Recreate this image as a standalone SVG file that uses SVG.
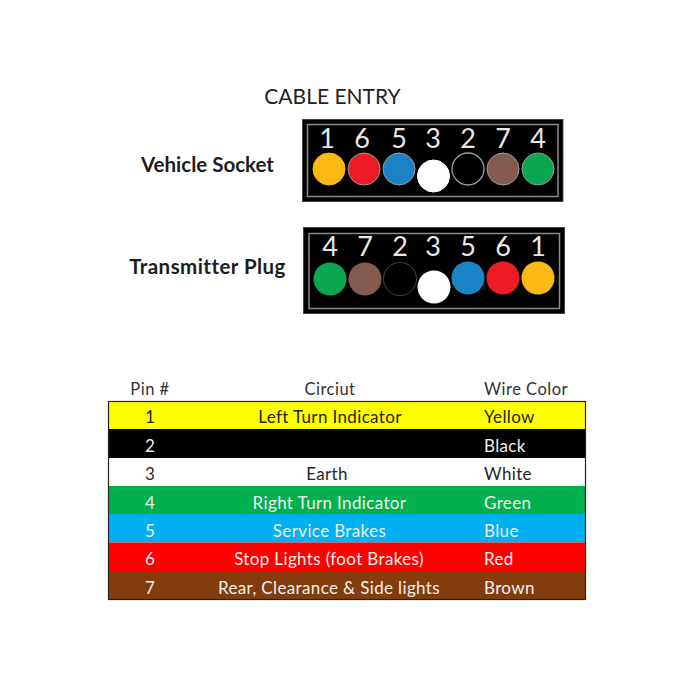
<svg xmlns="http://www.w3.org/2000/svg" width="700" height="700" viewBox="0 0 700 700">
<style>
text{font-family:"Lato","Open Sans","Liberation Sans",sans-serif;font-size:17px;letter-spacing:.36px;fill:#222}
.m{text-anchor:middle}
.w{fill:#f0f0f0}
.k{fill:#262626}
.h{font-size:16.500px;letter-spacing:.5px;fill:#333}
.t{font-size:20.500px;font-weight:700;fill:#1c1c1c;letter-spacing:0}
.n{font-size:27px;letter-spacing:0;fill:#e8e8e8;text-anchor:middle}
.box{fill:#000;stroke:#444;stroke-width:1}
.in{fill:none;stroke:#8a8a8a;stroke-width:1.5}
</style>
<rect width="700" height="700" fill="#fff"/>
<text id="title" x="332.500" y="104" class="m" style="font-size:21px;letter-spacing:0;fill:#222">CABLE ENTRY</text>
<g id="vehicle-socket">
<text x="207.500" y="172" class="t m">Vehicle Socket</text>
<rect class="box" x="302.500" y="119.500" width="260.500" height="82"/>
<rect class="in" x="307.500" y="124.500" width="250.500" height="72"/>
<text class="n" x="327" y="148">1</text><text class="n" x="362" y="148">6</text><text class="n" x="399" y="148">5</text><text class="n" x="433" y="148">3</text><text class="n" x="468" y="148">2</text><text class="n" x="503" y="148">7</text><text class="n" x="538" y="148">4</text>
<g stroke="#9a9a9a" stroke-width="1">
<circle cx="329" cy="169" r="16" fill="#fdb913" stroke="#fdb913"/>
<circle cx="364" cy="169" r="16" fill="#ed1c24"/>
<circle cx="399" cy="169" r="16" fill="#1b82c6"/>
<circle cx="433.500" cy="176" r="16" fill="#fff" stroke="#fff"/>
<circle cx="468" cy="169" r="16" fill="#000" stroke-width="1.300"/>
<circle cx="503" cy="169" r="16" fill="#855a4e"/>
<circle cx="538" cy="169" r="16" fill="#0aa650"/>
</g>
</g>
<g id="transmitter-plug">
<text x="207.500" y="274" class="t m" style="letter-spacing:.45px">Transmitter Plug</text>
<rect class="box" x="303.500" y="227.500" width="261" height="86"/>
<rect class="in" x="309" y="233.500" width="250.500" height="75"/>
<text class="n" x="330" y="256">4</text><text class="n" x="365" y="256">7</text><text class="n" x="400" y="256">2</text><text class="n" x="433" y="256">3</text><text class="n" x="468" y="256">5</text><text class="n" x="503" y="256">6</text><text class="n" x="538" y="256">1</text>
<circle cx="330" cy="279" r="16.500" fill="#0aa650"/>
<circle cx="365" cy="279" r="16.500" fill="#855a4e"/>
<circle cx="400" cy="279" r="16.500" fill="#000" stroke="#444"/>
<circle cx="434" cy="287" r="16.500" fill="#fff"/>
<circle cx="468" cy="278" r="16.500" fill="#1b82c6"/>
<circle cx="503" cy="278" r="16.500" fill="#ed1c24"/>
<circle cx="538" cy="278" r="16.500" fill="#fdb913"/>
</g>
<g id="table">
<text class="h m" x="150" y="395">Pin #</text><text class="h m" x="330" y="395">Circiut</text><text class="h" x="484" y="395">Wire Color</text>
<rect x="108.500" y="401.500" width="477" height="27.500" fill="#ff0"/>
<rect x="108.500" y="429" width="477" height="29" fill="#000"/>
<rect x="108.500" y="458" width="477" height="28" fill="#fff"/>
<rect x="108.500" y="486" width="477" height="28" fill="#00b050"/>
<rect x="108.500" y="514" width="477" height="28.500" fill="#00b0f0"/>
<rect x="108.500" y="542.500" width="477" height="28.500" fill="#f00"/>
<rect x="108.500" y="571" width="477" height="28.500" fill="#843c0c"/>
<rect x="108.500" y="401.500" width="477" height="198" fill="none" stroke="#222" stroke-width="1.200"/>
<text class="k m" x="150" y="423">1</text><text class="k m" x="330" y="423">Left Turn Indicator</text><text class="k" x="484" y="423">Yellow</text>
<text class="w m" x="150" y="452">2</text><text class="w" x="484" y="452">Black</text>
<text class="k m" x="150" y="480">3</text><text class="k m" x="327" y="480">Earth</text><text class="k" x="484" y="480">White</text>
<text class="w m" x="150" y="509">4</text><text class="w m" x="329.500" y="509">Right Turn Indicator</text><text class="w" x="484" y="509">Green</text>
<text class="w m" x="150" y="537">5</text><text class="w m" x="329.500" y="537">Service Brakes</text><text class="w" x="484" y="537">Blue</text>
<text class="w m" x="150" y="565">6</text><text class="w m" x="329" y="565">Stop Lights (foot Brakes)</text><text class="w" x="484" y="565">Red</text>
<text class="w m" x="150" y="594">7</text><text class="w m" x="329" y="594">Rear, Clearance &amp; Side lights</text><text class="w" x="484" y="594">Brown</text>
</g>
</svg>
